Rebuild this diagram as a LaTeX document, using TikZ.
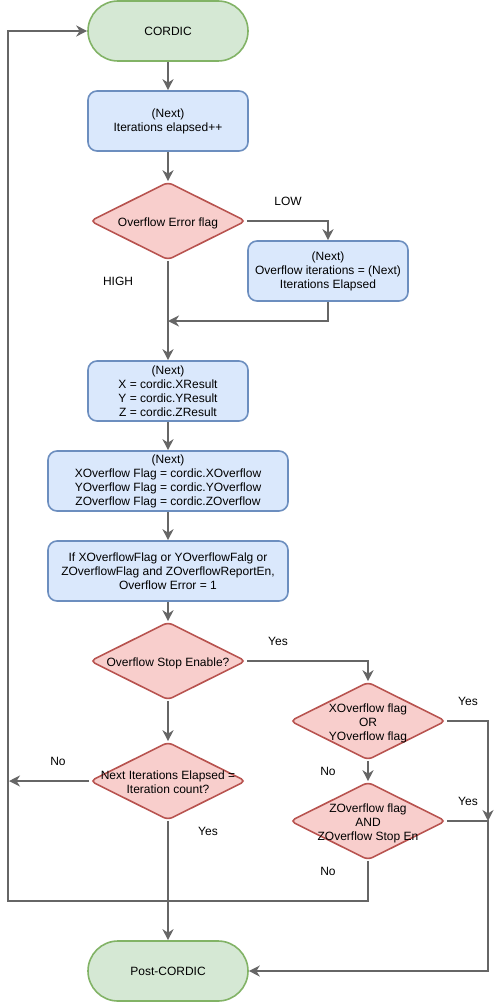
\documentclass[tikz,border=0pt]{standalone}
\usepackage{fontspec}
\setmainfont{Liberation Sans}
\usetikzlibrary{arrows.meta,shapes.geometric}
\definecolor{termfill}{HTML}{D5E8D4}
\definecolor{termline}{HTML}{82B366}
\definecolor{procfill}{HTML}{DAE8FC}
\definecolor{procline}{HTML}{6C8EBF}
\definecolor{decfill}{HTML}{F8CECC}
\definecolor{decline}{HTML}{B85450}
\definecolor{flowgray}{HTML}{666666}
\newcommand\dtext[1]{\smash{\makebox[0pt]{\raisebox{-6pt}{\begin{tabular}{@{}c@{}}#1\end{tabular}}}}}
\tikzset{
	every node/.style={font=\fontsize{12}{14}\selectfont},
	term/.style={draw=termline, fill=termfill, line width=1.6pt, rounded corners=30pt, minimum width=160pt, minimum height=60pt},
	proc/.style={draw=procline, fill=procfill, line width=1.6pt, rounded corners=9pt, minimum height=60pt, inner sep=0pt, align=center},
	decision/.style={draw=decline, fill=decfill, line width=1.6pt, shape=diamond, aspect=2, rounded corners=5pt, minimum width=156pt, minimum height=78pt, inner sep=0pt},
	flow/.style={draw=flowgray, line width=1.6pt, -{Stealth[length=11pt, width=11pt, inset=3.5pt]}}
}

\begin{document}
\begin{tikzpicture}[x=1pt, y=-1pt]
			%%%%% START %%%%%
			\useasboundingbox (0, 0) rectangle (499, 1003);
			
			\node[term] (start) at (168, 31) {CORDIC};
			\node[proc, minimum width=160pt] (incr) at (168, 121) {(Next)\\Iterations elapsed++};
			\node[decision] (oef) at (168, 221) {\dtext{Overflow Error flag}};
			\node[proc, minimum width=160pt] (ovit) at (328, 271) {(Next)\\Overflow iterations = (Next)\\Iterations Elapsed};
			\coordinate (merge) at (168, 321);
			
			\node[proc, minimum width=160pt] (res) at (168, 391) {(Next)\\X = cordic.XResult\\Y = cordic.YResult\\Z = cordic.ZResult};
			\node[proc, minimum width=240pt] (ovf) at (168, 481) {(Next)\\XOverflow Flag = cordic.XOverflow\\YOverflow Flag = cordic.YOverflow\\ZOverflow Flag = cordic.ZOverflow};
			\node[proc, minimum width=240pt] (err) at (168, 571) {If XOverflowFlag or YOverflowFalg or\\ZOverflowFlag and ZOverflowReportEn,\\Overflow Error = 1};
			
			\node[decision] (stop) at (168, 661) {\dtext{Overflow Stop Enable?}};
			\node[decision] (xy) at (368, 721) {\dtext{XOverflow flag\\OR\\YOverflow flag}};
			\node[decision] (zf) at (368, 821) {\dtext{ZOverflow flag\\AND\\ZOverflow Stop En}};
			\node[decision] (cnt) at (168, 781) {\dtext{Next Iterations Elapsed =\\Iteration count?}};
			\node[term] (post) at (168, 971) {Post-CORDIC};
			
			\coordinate (loop) at (8, 901);
			\coordinate (noend) at (9, 781);
			\coordinate (yesjoin) at (488, 821);
			
			% connectors
			\draw[flow] (start) -- (incr);
			\draw[flow] (incr) -- (oef);
			\draw[flow] (oef.east) -| (ovit.north);
			\draw[flow] (ovit.south) |- (merge);
			\draw[flow] (oef.south) -- (res.north);
			\draw[flow] (res) -- (ovf);
			\draw[flow] (ovf) -- (err);
			\draw[flow] (err) -- (stop);
			\draw[flow] (stop.east) -| (xy.north);
			\draw[flow] (stop) -- (cnt);
			\draw[flow] (xy) -- (zf);
			\draw[flow] (xy.east) -| (yesjoin);
			\draw[flow] (zf.east) -- (yesjoin) |- (post.east);
			\draw[flow] (cnt.west) -- (noend);
			\draw[flow] (cnt.south) -- (post.north);
			\draw[flow] (zf.south) |- (loop) |- (start.west);
			
			% labels
			\node (low) at (288, 201) {LOW};
			\node (high) at (118, 281) {HIGH};
			\node (yesa) at (278, 641) {Yes};
			\node (yesb) at (468, 701) {Yes};
			\node (noa) at (328, 771) {No};
			\node (yesc) at (468, 801) {Yes};
			\node (nob) at (328, 871) {No};
			\node (noc) at (58, 761) {No};
			\node (yesd) at (208, 831) {Yes};
			%%%%% END %%%%%
\end{tikzpicture}
\end{document}
